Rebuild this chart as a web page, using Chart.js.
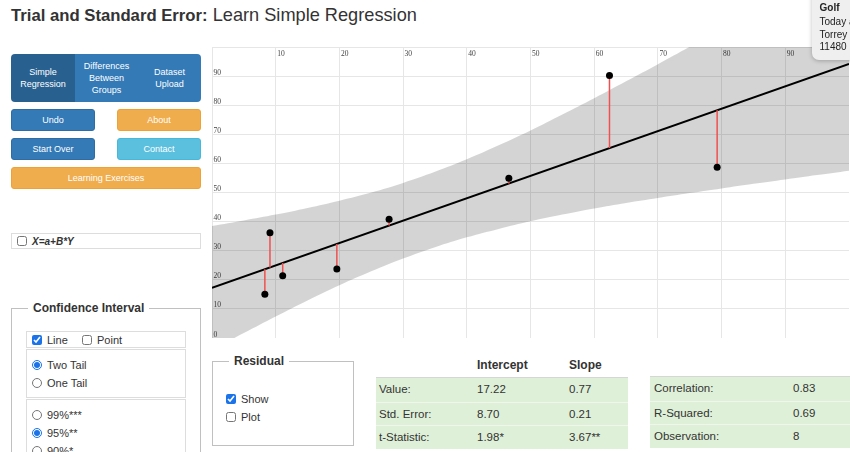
<!DOCTYPE html>
<html>
<head>
<meta charset="utf-8">
<title>Trial and Standard Error: Learn Simple Regression</title>
<script src="https://cdn.jsdelivr.net/npm/chart.js@4"></script>
<style>
  html, body { margin: 0; padding: 0; }
  body {
    width: 850px; height: 452px; overflow: hidden; position: relative;
    background: #fff; color: #333;
    font-family: "Liberation Sans", Arial, Helvetica, sans-serif;
  }
  h1 { position: absolute; left: 11px; top: 5px; margin: 0; font-size: 18.2px; font-weight: normal; color: #333; white-space: nowrap; }
  h1 b { font-weight: bold; font-size: 16.7px; }
  .btn { position: absolute; color: #fff; font-size: 9px; display: flex; align-items: center; justify-content: center; text-align: center; border-radius: 3px; box-sizing: border-box; }
  .blue { background: #337ab7; border: 1px solid #2e6da4; }
  .orange { background: #f0ad4e; border: 1px solid #eea236; }
  .cyan { background: #5bc0de; border: 1px solid #46b8da; }
  .group { position: absolute; left: 11px; top: 54px; width: 190px; height: 48px; border-radius: 4px; overflow: hidden; display: flex; }
  .group div { color: #fff; font-size: 9px; line-height: 12px; display: flex; align-items: center; justify-content: center; text-align: center; background: #337ab7; }
  .group .active { background: #286090; }
  .box { position: absolute; border: 1px solid #ddd; box-sizing: border-box; }
  fieldset { position: absolute; margin: 0; padding: 0; border: 1px solid #c0c0c0; box-sizing: border-box; }
  legend { font-weight: bold; font-size: 12px; padding: 0 5px; margin-left: 16px; color: #333; }
  .opt { position: absolute; font-size: 11px; display: flex; align-items: center; white-space: nowrap; }
  .opt input { margin: 0 5px 0 0; width: 10px; height: 10px; accent-color: #1a73e8; }
  .green { position: absolute; background: #dff0d8; border-top: 1px solid #d6d6d6; }
  .row { position: absolute; left: 0; right: 0; height: 23px; border-top: 1px solid #eef7ea; font-size: 11.5px; color: #333; }
  .row:first-child { border-top: none; }
  .row span { position: absolute; top: 5px; }
  .th { position: absolute; font-size: 12px; font-weight: bold; color: #333; }
  #note { position: absolute; left: 812px; top: -12px; width: 80px; height: 72px; background: #efefef; border-radius: 7px; box-shadow: 0 1px 4px rgba(0,0,0,0.25); font-size: 10px; color: #222; }
  #note div { position: absolute; left: 7.5px; white-space: nowrap; }
  #chartBox { position: absolute; left: 212px; top: 47px; width: 637px; height: 291px; }
</style>
</head>
<body>
<h1><b>Trial and Standard Error:</b> Learn Simple Regression</h1>

<div class="group">
  <div class="active" style="width:64px">Simple<br>Regression</div>
  <div style="width:63px">Differences<br>Between<br>Groups</div>
  <div style="width:63px">Dataset<br>Upload</div>
</div>
<div class="btn blue" style="left:11px;top:109px;width:84px;height:22px">Undo</div>
<div class="btn orange" style="left:117px;top:109px;width:84px;height:22px">About</div>
<div class="btn blue" style="left:11px;top:138px;width:84px;height:22px">Start Over</div>
<div class="btn cyan" style="left:117px;top:138px;width:84px;height:22px">Contact</div>
<div class="btn orange" style="left:11px;top:167px;width:190px;height:22px">Learning Exercises</div>

<div class="box" style="left:11px;top:233px;width:190px;height:16px"></div>
<label class="opt" style="left:17px;top:234px;height:14px;font-weight:bold;font-style:italic;font-size:10px"><input type="checkbox">X=a+B*Y</label>

<fieldset style="left:11px;top:301px;width:190px;height:170px"><legend>Confidence Interval</legend></fieldset>
<div class="box" style="left:26px;top:331px;width:160px;height:17px"></div>
<label class="opt" style="left:32px;top:332px;height:15px"><input type="checkbox" checked>Line</label>
<label class="opt" style="left:82px;top:332px;height:15px"><input type="checkbox">Point</label>
<div class="box" style="left:26px;top:349px;width:160px;height:49px"></div>
<label class="opt" style="left:32px;top:357px;height:15px"><input type="radio" name="tail" checked>Two Tail</label>
<label class="opt" style="left:32px;top:375px;height:15px"><input type="radio" name="tail">One Tail</label>
<div class="box" style="left:26px;top:399px;width:160px;height:70px"></div>
<label class="opt" style="left:32px;top:407px;height:15px"><input type="radio" name="lvl">99%***</label>
<label class="opt" style="left:32px;top:425px;height:15px"><input type="radio" name="lvl" checked>95%**</label>
<label class="opt" style="left:32px;top:443px;height:15px"><input type="radio" name="lvl">90%*</label>

<fieldset style="left:212px;top:354px;width:142px;height:92px"><legend>Residual</legend></fieldset>
<label class="opt" style="left:226px;top:391px;height:15px"><input type="checkbox" checked>Show</label>
<label class="opt" style="left:226px;top:409px;height:15px"><input type="checkbox">Plot</label>

<div class="th" style="left:477px;top:358px">Intercept</div>
<div class="th" style="left:569px;top:358px">Slope</div>
<div class="green" style="left:376px;top:377px;width:252px;height:71px">
  <div class="row" style="top:0"><span style="left:3px">Value:</span><span style="left:101px">17.22</span><span style="left:193px">0.77</span></div>
  <div class="row" style="top:23.5px"><span style="left:3px">Std. Error:</span><span style="left:101px">8.70</span><span style="left:193px">0.21</span></div>
  <div class="row" style="top:47px"><span style="left:3px">t-Statistic:</span><span style="left:101px">1.98*</span><span style="left:193px">3.67**</span></div>
</div>
<div class="green" style="left:650px;top:376px;width:200px;height:71px">
  <div class="row" style="top:0"><span style="left:4px">Correlation:</span><span style="left:143px">0.83</span></div>
  <div class="row" style="top:23.5px"><span style="left:4px">R-Squared:</span><span style="left:143px">0.69</span></div>
  <div class="row" style="top:47px"><span style="left:4px">Observation:</span><span style="left:143px">8</span></div>
</div>

<div id="chartBox"><canvas id="chart"></canvas></div>

<div id="note">
  <div style="top:14px;font-weight:bold">Golf</div>
  <div style="top:28px">Today at</div>
  <div style="top:40.5px">Torrey Pines</div>
  <div style="top:53px">11480 N</div>
</div>

<script>
// Observations (X, Y)
const pointX = [8.3, 9.1, 11.1, 19.6, 27.8, 46.6, 62.4, 79.3];
const pointY = [15.0, 36.2, 21.4, 23.7, 40.8, 54.9, 90.2, 58.7];

// Fitted coefficients shown in the results table
const intercept = 17.22;
const slope = 0.77;

// 95% confidence band of the fitted mean
const bandX     = [0, 5, 10, 15, 20, 25, 30, 35, 40, 45, 50, 55, 60, 65, 70, 75, 80, 85, 90, 95, 100];
const bandUpper = [38.5, 40.4, 42.4, 44.7, 47.2, 50.0, 53.3, 57.1, 61.4, 66.2, 71.3, 76.8, 82.4, 88.2, 94.1, 100.1, 106.2, 112.4, 118.5, 124.8, 131.0];
const bandLower = [-4.1, 1.7, 7.4, 12.9, 18.1, 22.9, 27.3, 31.2, 34.6, 37.5, 40.1, 42.4, 44.5, 46.4, 48.1, 49.8, 51.4, 53.0, 54.5, 56.0, 57.5];

// Axis range and tick spacing
const axisMin = 0;
const axisMax = 100;
const tickStep = 10;

const fitAt = x => intercept + slope * x;

const points = pointX.map((x, i) => ({ x, y: pointY[i] }));
const fitLine = [{ x: axisMin, y: fitAt(axisMin) }, { x: axisMax, y: fitAt(axisMax) }];

// One short vertical segment per observation, from the point to the fitted line
const residualSets = pointX.map((x, i) => ({
  data: [{ x, y: pointY[i] }, { x, y: fitAt(x) }],
  showLine: true,
  borderColor: 'rgb(240,80,80)', borderWidth: 1.5,
  pointRadius: 0, fill: false, order: 2
}));

// Tick labels drawn just inside the plot area (top for X, left for Y)
const insideTicks = {
  id: 'insideTicks',
  beforeDatasetsDraw(chart) {
    const { ctx, chartArea, scales } = chart;
    const sx = scales.x, sy = scales.y;
    ctx.save();
    ctx.font = '7.5px "Liberation Serif", "DejaVu Serif", serif';
    ctx.fillStyle = '#444';
    ctx.textAlign = 'left';
    ctx.textBaseline = 'top';
    sx.ticks.forEach(t => {
      if (t.value > sx.min && t.value < sx.max) {
        ctx.fillText(t.label, sx.getPixelForValue(t.value) + 1.5, chartArea.top + 3);
      }
    });
    ctx.textBaseline = 'alphabetic';
    sy.ticks.forEach(t => {
      if (t.value < sy.max) {
        ctx.fillText(t.label, chartArea.left + 1.5, sy.getPixelForValue(t.value) - 1.5);
      }
    });
    ctx.restore();
  }
};

const gridColor = '#e6e6e6';
const axisOptions = (position) => ({
  type: 'linear',
  position,
  min: axisMin,
  max: axisMax,
  ticks: { stepSize: tickStep, display: false },
  grid: { color: gridColor, lineWidth: 1, drawTicks: false },
  border: { color: gridColor, width: 1 }
});

new Chart(document.getElementById('chart'), {
  type: 'scatter',
  data: {
    datasets: [
      {
        data: bandX.map((x, i) => ({ x, y: bandLower[i] })),
        showLine: true, borderWidth: 0, borderColor: 'rgba(0,0,0,0)',
        pointRadius: 0, tension: 0.4, fill: false, order: 5
      },
      {
        data: bandX.map((x, i) => ({ x, y: bandUpper[i] })),
        showLine: true, borderWidth: 0, borderColor: 'rgba(0,0,0,0)',
        backgroundColor: 'rgba(0,0,0,0.17)',
        pointRadius: 0, tension: 0.4, fill: '-1', order: 4
      },
      {
        data: fitLine, showLine: true, borderColor: '#000', borderWidth: 2,
        pointRadius: 0, fill: false, order: 3
      },
      ...residualSets,
      {
        data: points, showLine: false, pointRadius: 3.5,
        pointBackgroundColor: '#000', pointBorderColor: '#000', pointBorderWidth: 0, order: 1
      }
    ]
  },
  options: {
    responsive: true,
    maintainAspectRatio: false,
    animation: false,
    layout: { padding: 0, autoPadding: false },
    plugins: { legend: { display: false }, tooltip: { enabled: false } },
    events: [],
    scales: { x: axisOptions('top'), y: axisOptions('left') }
  },
  plugins: [insideTicks]
});
</script>
</body>
</html>
